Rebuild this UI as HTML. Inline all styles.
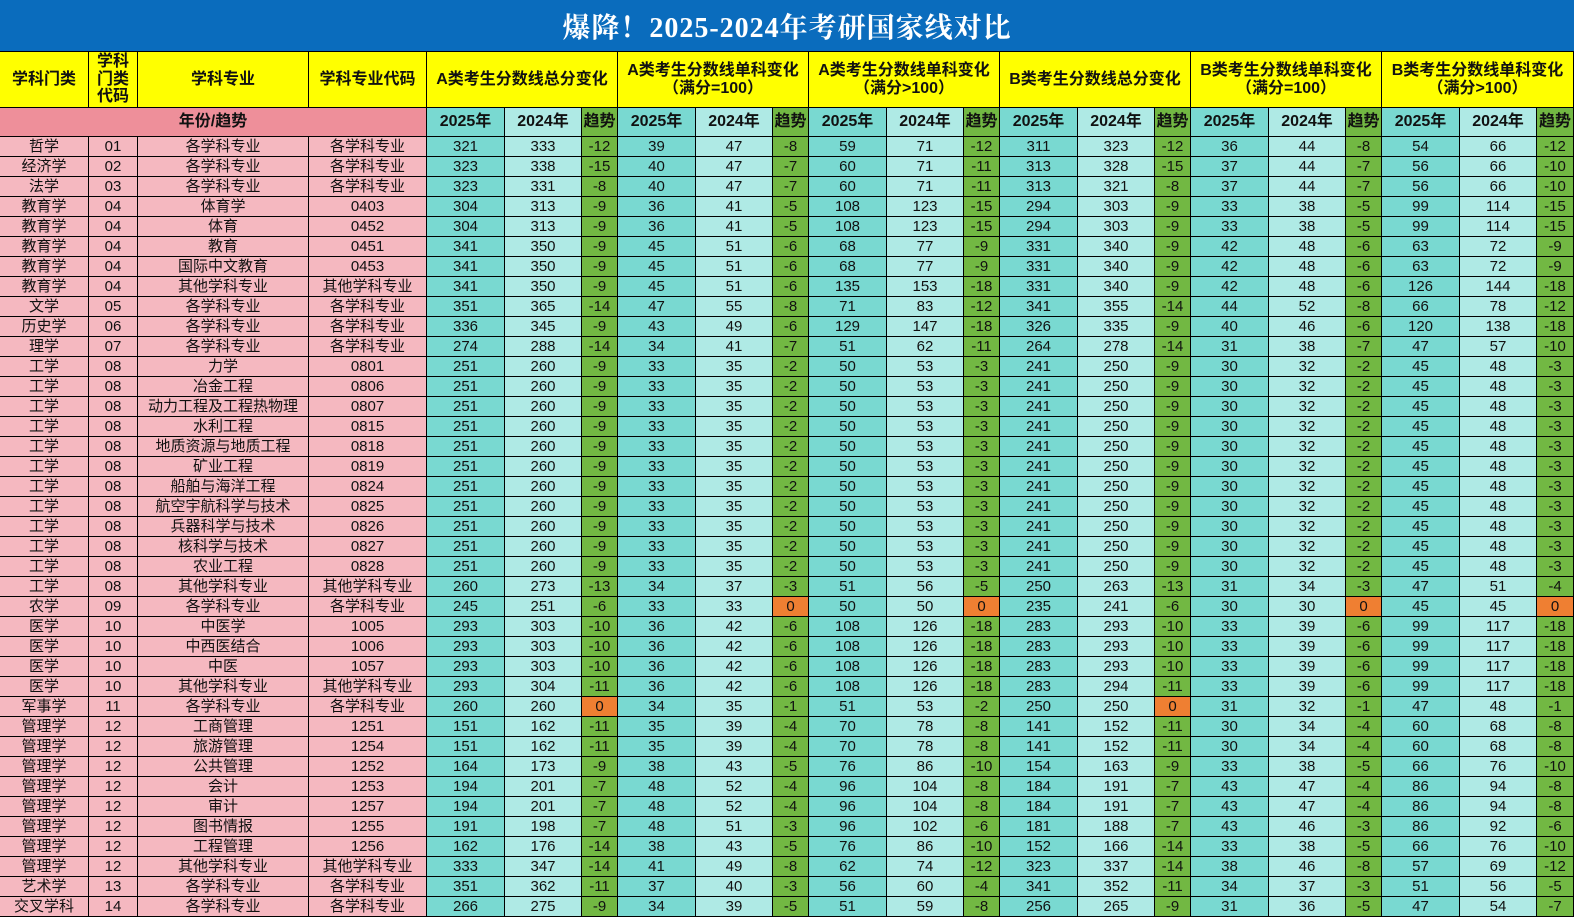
<!DOCTYPE html>
<html><head><meta charset="utf-8"><style>
body{margin:0;width:1574px;height:918px;overflow:hidden;background:#fff;position:relative;font-family:"Liberation Sans","Noto Sans CJK SC",sans-serif}
.c{position:absolute;box-sizing:border-box;border-right:1px solid #000;border-bottom:1px solid #000;display:flex;align-items:center;justify-content:center;text-align:center;color:#111;font-size:15px;line-height:1;white-space:nowrap;overflow:hidden}
.t{position:absolute;left:0;top:0;width:1574px;height:52px;background:#0a6cbd;color:#fff;font:bold 28px "Liberation Serif","Noto Serif CJK SC",serif;display:flex;align-items:center;justify-content:center;letter-spacing:1px;border-bottom:1px solid #000;box-sizing:border-box}
.h{background:#ffff00;font-weight:bold;font-size:16px;line-height:1.1;white-space:normal}
.y{font-weight:bold;font-size:16px}
</style></head><body>
<div class="t">爆降！2025-2024年考研国家线对比</div>
<script>
var X=[0,89,138,309,427];var g=427;
for(var i=0;i<6;i++){X.push(g+78,g+155,g+191);g+=191;}
X[X.length-1]=1574;
function cell(x0,x1,y0,y1,txt,cls,bg){var d=document.createElement('div');d.className='c'+(cls?' '+cls:'');d.style.left=x0+'px';d.style.top=y0+'px';d.style.width=(x1-x0)+'px';d.style.height=(y1-y0)+'px';if(bg)d.style.background=bg;d.innerHTML=txt;document.body.appendChild(d);}
var H=['学科门类','学科<br>门类<br>代码','学科专业','学科专业代码'];
for(var i=0;i<4;i++)cell(X[i],X[i+1],52,108,H[i],'h');
var G=['A类考生分数线总分变化','A类考生分数线单科变化<br>（满分=100）','A类考生分数线单科变化<br>（满分&gt;100）','B类考生分数线总分变化','B类考生分数线单科变化<br>（满分=100）','B类考生分数线单科变化<br>（满分&gt;100）'];
for(var i=0;i<6;i++)cell(X[4+3*i],X[7+3*i],52,108,G[i],'h');
cell(0,427,108,137,'年份/趋势','y','#ee8f9a');
var C1='#79d9d1',C2='#afeae5',CG='#72b843',CO='#ef7f32';
for(var i=0;i<6;i++){cell(X[4+3*i],X[5+3*i],108,137,'2025年','y',C1);cell(X[5+3*i],X[6+3*i],108,137,'2024年','y',C2);cell(X[6+3*i],X[7+3*i],108,137,'趋势','y',CG);}
var S='各学科专业',O='其他学科专业';
var E=[[321,333,39,47,59,71,311,323,36,44,54,66]];
var R=[
['哲学','01',S,S,[321,333,39,47,59,71,311,323,36,44,54,66]],
['经济学','02',S,S,[323,338,40,47,60,71,313,328,37,44,56,66]],
['法学','03',S,S,[323,331,40,47,60,71,313,321,37,44,56,66]],
['教育学','04','体育学','0403',[304,313,36,41,108,123,294,303,33,38,99,114]],
['教育学','04','体育','0452',[304,313,36,41,108,123,294,303,33,38,99,114]],
['教育学','04','教育','0451',[341,350,45,51,68,77,331,340,42,48,63,72]],
['教育学','04','国际中文教育','0453',[341,350,45,51,68,77,331,340,42,48,63,72]],
['教育学','04',O,O,[341,350,45,51,135,153,331,340,42,48,126,144]],
['文学','05',S,S,[351,365,47,55,71,83,341,355,44,52,66,78]],
['历史学','06',S,S,[336,345,43,49,129,147,326,335,40,46,120,138]],
['理学','07',S,S,[274,288,34,41,51,62,264,278,31,38,47,57]]];
var GX=[251,260,33,35,50,53,241,250,30,32,45,48];
[['力学','0801'],['冶金工程','0806'],['动力工程及工程热物理','0807'],['水利工程','0815'],['地质资源与地质工程','0818'],['矿业工程','0819'],['船舶与海洋工程','0824'],['航空宇航科学与技术','0825'],['兵器科学与技术','0826'],['核科学与技术','0827'],['农业工程','0828']].forEach(function(a){R.push(['工学','08',a[0],a[1],GX]);});
var M=[293,303,36,42,108,126,283,293,33,39,99,117];
R.push(['工学','08',O,O,[260,273,34,37,51,56,250,263,31,34,47,51]],
['农学','09',S,S,[245,251,33,33,50,50,235,241,30,30,45,45]],
['医学','10','中医学','1005',M],['医学','10','中西医结合','1006',M],['医学','10','中医','1057',M],
['医学','10',O,O,[293,304,36,42,108,126,283,294,33,39,99,117]],
['军事学','11',S,S,[260,260,34,35,51,53,250,250,31,32,47,48]],
['管理学','12','工商管理','1251',[151,162,35,39,70,78,141,152,30,34,60,68]],
['管理学','12','旅游管理','1254',[151,162,35,39,70,78,141,152,30,34,60,68]],
['管理学','12','公共管理','1252',[164,173,38,43,76,86,154,163,33,38,66,76]],
['管理学','12','会计','1253',[194,201,48,52,96,104,184,191,43,47,86,94]],
['管理学','12','审计','1257',[194,201,48,52,96,104,184,191,43,47,86,94]],
['管理学','12','图书情报','1255',[191,198,48,51,96,102,181,188,43,46,86,92]],
['管理学','12','工程管理','1256',[162,176,38,43,76,86,152,166,33,38,66,76]],
['管理学','12',O,O,[333,347,41,49,62,74,323,337,38,46,57,69]],
['艺术学','13',S,S,[351,362,37,40,56,60,341,352,34,37,51,56]],
['交叉学科','14',S,S,[266,275,34,39,51,59,256,265,31,36,47,54]]);
R.forEach(function(r,k){var y0=137+k*20,y1=y0+20;
for(var i=0;i<4;i++)cell(X[i],X[i+1],y0,y1,r[i],'','#f5b8c0');
for(var j=0;j<6;j++){var a=r[4][2*j],b=r[4][2*j+1],d=a-b;
cell(X[4+3*j],X[5+3*j],y0,y1,a,'',C1);cell(X[5+3*j],X[6+3*j],y0,y1,b,'',C2);cell(X[6+3*j],X[7+3*j],y0,y1,d,'',d==0?CO:CG);}});
</script>
</body></html>
